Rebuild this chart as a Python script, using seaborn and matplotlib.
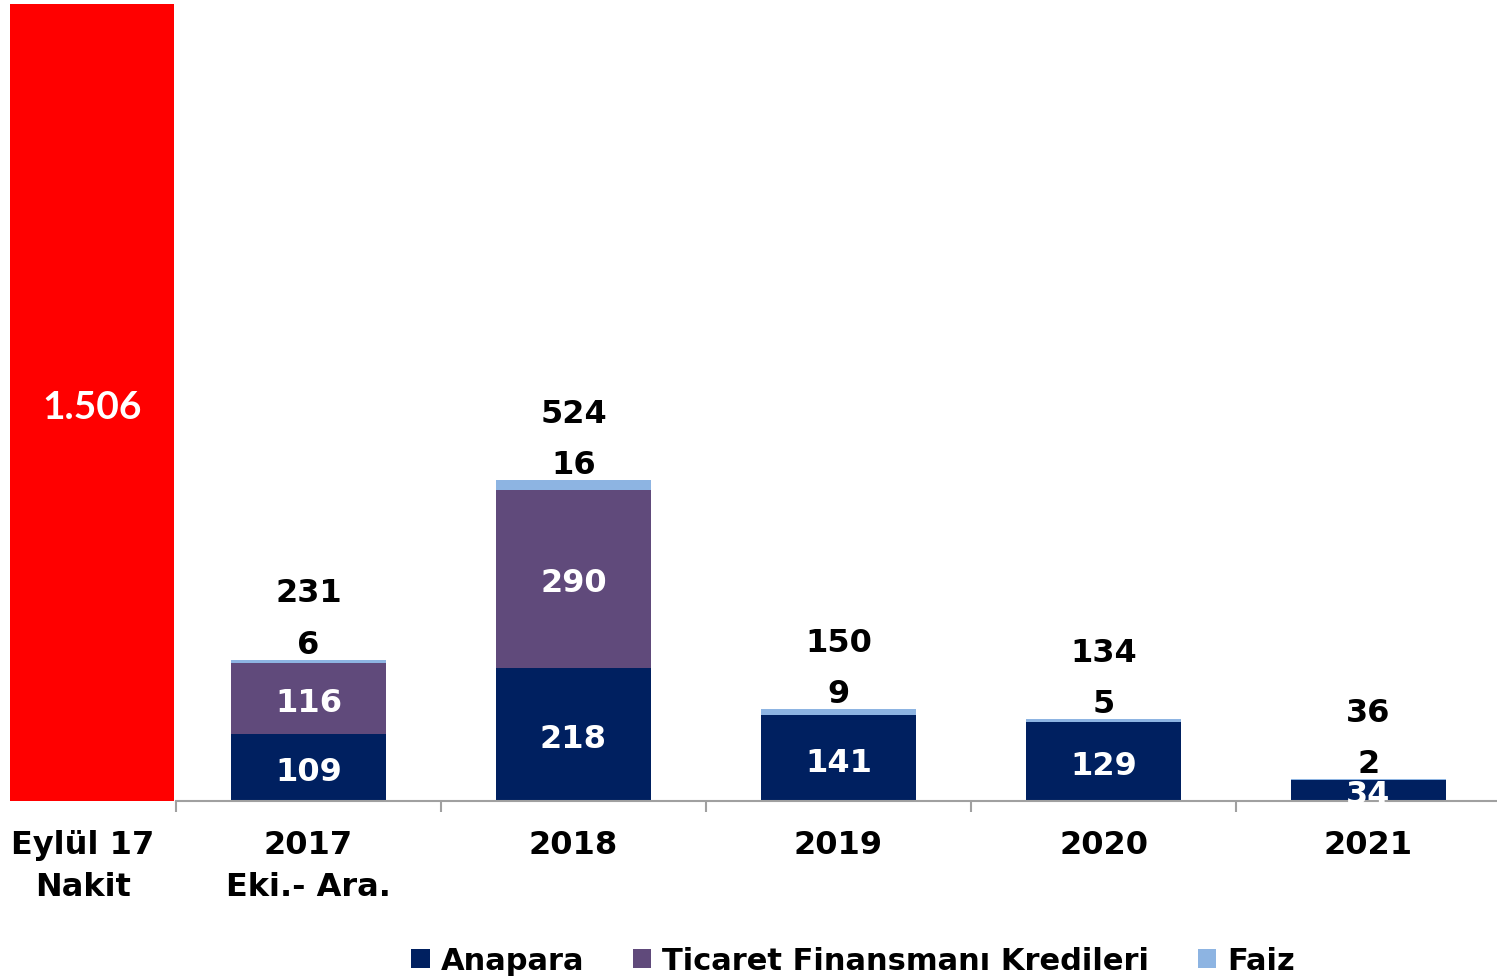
import matplotlib
matplotlib.use("Agg")
import matplotlib.pyplot as plt
from matplotlib.patches import Patch
from matplotlib.ticker import FixedLocator
import matplotlib.transforms as mtransforms
import seaborn as sns
import pandas as pd

# ---- data ----
cash_label = "Eylül 17\nNakit"
cash_value = 1506
categories = ["2017\nEki.- Ara.", "2018", "2019", "2020", "2021"]
anapara = [109, 218, 141, 129, 34]
ticaret = [116, 290, 0, 0, 0]
faiz = [6, 16, 9, 5, 2]
series_names = ["Anapara", "Ticaret Finansmanı Kredileri", "Faiz"]

# ---- style ----
NAVY = "#002060"
PURPLE = "#604A7B"
LIGHT = "#8DB4E2"
RED = "#FF0000"
GRAY = "#A0A0A0"

sns.set_style("white")
plt.rcParams["font.family"] = ["DejaVu Sans"]
plt.rcParams["font.weight"] = "bold"
plt.rcParams["text.color"] = "black"

W, H = 1497, 978
fig = plt.figure(figsize=(W / 100, H / 100), dpi=100)

ax_bottom = 176 / H
ax_height = 797 / H
YMAX = 1302
NUM_FS = 23
TICK_FS = 23

ax_l = fig.add_axes([10 / W, ax_bottom, 164 / W, ax_height])
ax = fig.add_axes([176 / W, ax_bottom, 1325 / W, ax_height])

# ---- left: cash bar ----
df_cash = pd.DataFrame({"cat": [cash_label], "val": [cash_value]})
sns.barplot(data=df_cash, x="cat", y="val", color=RED, saturation=1,
            width=1.0, ax=ax_l, linewidth=0)
ax_l.set_xlim(-0.5, 0.5)
ax_l.set_ylim(0, YMAX)
for s in ax_l.spines.values():
    s.set_visible(False)
ax_l.set_yticks([])
ax_l.set_xlabel("")
ax_l.set_ylabel("")
ax_l.tick_params(axis="x", length=0, pad=20, labelsize=TICK_FS, labelcolor="black")
shift = mtransforms.ScaledTranslation(-9 / 100, 0, fig.dpi_scale_trans)
for t in ax_l.get_xticklabels():
    t.set_fontweight("bold")
    t.set_linespacing(1.45)
    t.set_transform(t.get_transform() + shift)
ax_l.annotate(f"{cash_value:,}".replace(",", "."), xy=(0.5, 0.5), xycoords="axes fraction",
              xytext=(0, -3), textcoords="offset points",
              ha="center", va="center", color="white", fontsize=28,
              family=["Lato", "DejaVu Sans"], fontweight="bold")

# ---- right: stacked bars ----
df = pd.DataFrame({"cat": categories, "Anapara": anapara,
                   "Ticaret": ticaret, "Faiz": faiz})
df["cum2"] = df["Anapara"] + df["Ticaret"]
df["cum3"] = df["cum2"] + df["Faiz"]

BW = 0.585
sns.barplot(data=df, x="cat", y="cum3", color=LIGHT, saturation=1, width=BW, ax=ax, linewidth=0)
sns.barplot(data=df, x="cat", y="cum2", color=PURPLE, saturation=1, width=BW, ax=ax, linewidth=0)
sns.barplot(data=df, x="cat", y="Anapara", color=NAVY, saturation=1, width=BW, ax=ax, linewidth=0)

ax.set_xlim(-0.5, len(categories) - 0.5)
ax.set_ylim(0, YMAX)
ax.set_xlabel("")
ax.set_ylabel("")
ax.set_yticks([])
for side in ["top", "right", "left"]:
    ax.spines[side].set_visible(False)
ax.spines["bottom"].set_color(GRAY)
ax.spines["bottom"].set_linewidth(1.5)
ax.xaxis.set_minor_locator(FixedLocator([i - 0.5 for i in range(len(categories) + 1)]))
ax.tick_params(axis="x", which="minor", length=8, width=1.5, color=GRAY, direction="out", bottom=True)
ax.tick_params(axis="x", which="major", length=0, pad=20, labelsize=TICK_FS, labelcolor="black")
for t in ax.get_xticklabels():
    t.set_fontweight("bold")
    t.set_linespacing(1.45)

for i in range(len(categories)):
    a, tc, fz = anapara[i], ticaret[i], faiz[i]
    ax.annotate(str(a), xy=(i, a / 2), xytext=(0, -3), textcoords="offset points",
                ha="center", va="center", color="white", fontsize=NUM_FS, fontweight="bold")
    if tc > 0:
        ax.annotate(str(tc), xy=(i, a + tc / 2), xytext=(0, -3), textcoords="offset points",
                    ha="center", va="center", color="white", fontsize=NUM_FS, fontweight="bold")
    total = a + tc + fz
    ax.annotate(str(fz), xy=(i, total), xytext=(0, 11), textcoords="offset points",
                ha="center", va="center", color="black", fontsize=NUM_FS, fontweight="bold")
    ax.annotate(str(total), xy=(i, total), xytext=(0, 48), textcoords="offset points",
                ha="center", va="center", color="black", fontsize=NUM_FS, fontweight="bold")

handles = [Patch(facecolor=c, edgecolor="none") for c in (NAVY, PURPLE, LIGHT)]
leg = fig.legend(handles, series_names, loc="center", bbox_to_anchor=(853 / W, 1 - 962 / H),
                 ncol=3, frameon=False, handlelength=0.6, handleheight=0.6,
                 handletextpad=0.35, columnspacing=1.6, borderpad=0,
                 prop={"weight": "bold", "size": 22})
for t in leg.get_texts():
    t.set_color("black")

fig.savefig("out.png", dpi=100)
